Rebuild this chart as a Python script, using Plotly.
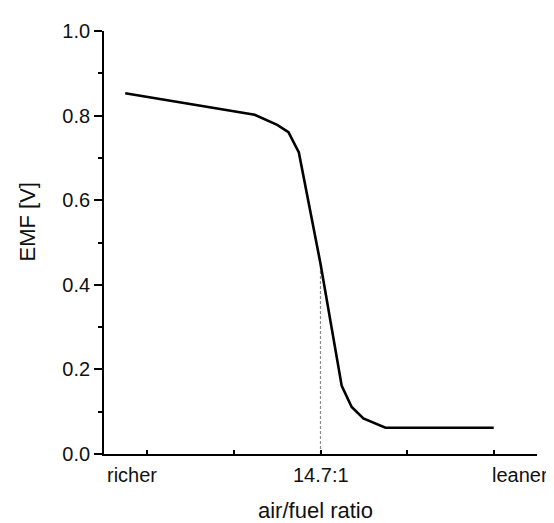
import plotly.graph_objects as go

# Data
ratio_x = [-0.255, 1.24, 1.50, 1.63, 1.75, 2.0, 2.245, 2.36, 2.495, 2.75, 4.0]
emf_v = [0.853, 0.802, 0.778, 0.761, 0.713, 0.45, 0.161, 0.111, 0.084, 0.062, 0.062]

stoich_x = [2.0, 2.0]
stoich_y = [0.0, 0.448]

x_tick_vals = [0, 1, 2, 3, 4]
x_label_pos = [-0.18, 2.0, 4.305]
x_label_text = ["richer", "14.7:1", "leaner"]
y_tick_vals = [0.0, 0.2, 0.4, 0.6, 0.8, 1.0]

FONT = "Liberation Sans, Arial, sans-serif"

fig = go.Figure()
fig.add_trace(go.Scatter(x=stoich_x, y=stoich_y, mode="lines",
                         line=dict(color="#8a8a8a", width=1.2, dash="3px,2px"),
                         hoverinfo="skip", showlegend=False))
fig.add_trace(go.Scatter(x=ratio_x, y=emf_v, mode="lines",
                         line=dict(color="black", width=2.6),
                         showlegend=False))

annotations = []
for xp, txt in zip(x_label_pos, x_label_text):
    annotations.append(dict(x=xp, y=0, xref="x", yref="paper", text=txt,
                            showarrow=False, xanchor="center", yanchor="middle",
                            yshift=-21, font=dict(family=FONT, size=20, color="#111")))
annotations.append(dict(x=0.5, y=0, xref="paper", yref="paper", text="air/fuel ratio",
                        showarrow=False, xanchor="center", yanchor="middle",
                        xshift=-5.5, yshift=-56, font=dict(family=FONT, size=22, color="#111")))
annotations.append(dict(x=0, y=0.5, xref="paper", yref="paper", text="EMF [V]",
                        showarrow=False, xanchor="center", yanchor="middle",
                        textangle=-90, xshift=-77, yshift=20,
                        font=dict(family=FONT, size=22, color="#111")))

# page body has an 8px margin, so the figure is shrunk by 8px to fit the window
fig.update_layout(
    width=546, height=515,
    margin=dict(l=96, r=17, t=16, b=69),
    paper_bgcolor="white", plot_bgcolor="white",
    font=dict(family=FONT, size=20, color="#111"),
    annotations=annotations,
    showlegend=False,
)
fig.update_xaxes(range=[-0.5, 4.5], tickvals=x_tick_vals, showticklabels=False,
                 ticks="inside", ticklen=4, tickwidth=1.5, tickcolor="black",
                 showline=True, linecolor="black", linewidth=1.8,
                 showgrid=False, zeroline=False)
fig.update_yaxes(range=[0, 1.0], tickvals=y_tick_vals, tickformat=".1f",
                 ticks="outside", ticklen=8, tickwidth=1.5, tickcolor="black",
                 minor=dict(dtick=0.1, tick0=0, ticks="outside", ticklen=4,
                            tickwidth=1.5, tickcolor="black"),
                 showline=True, linecolor="black", linewidth=1.8,
                 showgrid=False, zeroline=False,
                 tickfont=dict(family=FONT, size=20, color="#111"))

fig.write_html("out.html")
